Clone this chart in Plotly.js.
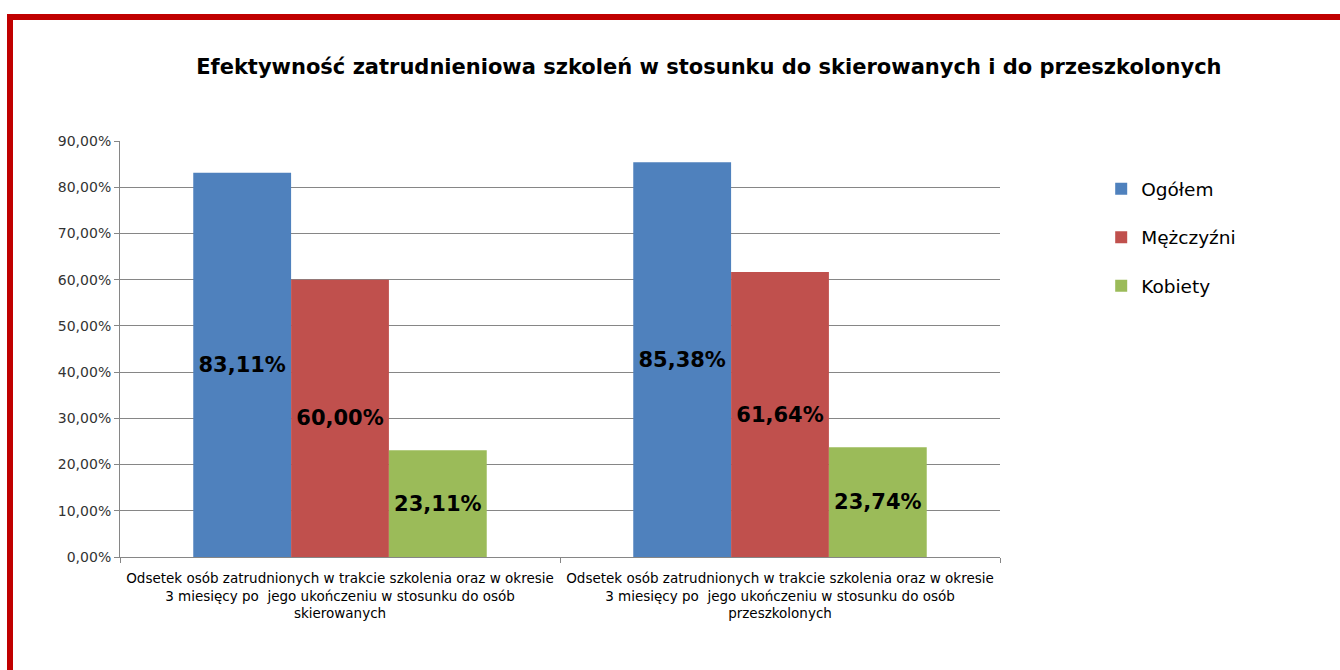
<!DOCTYPE html>
<html>
<head>
<meta charset="utf-8">
<script src="https://cdn.plot.ly/plotly-3.0.1.min.js"></script>
<style>
html,body{margin:0;padding:0;background:#fff;overflow:hidden;}
#chart{position:absolute;left:0;top:0;width:1340px;height:670px;}
#frame{position:absolute;left:7px;top:14px;width:1400px;height:720px;border:6px solid #C00000;box-sizing:border-box;pointer-events:none;}
</style>
</head>
<body>
<div id="chart"></div>
<div id="frame"></div>
<script>
const categories = [
  "Odsetek osób zatrudnionych w trakcie szkolenia oraz w okresie<br>3 miesięcy po  jego ukończeniu w stosunku do osób<br>skierowanych",
  "Odsetek osób zatrudnionych w trakcie szkolenia oraz w okresie<br>3 miesięcy po  jego ukończeniu w stosunku do osób<br>przeszkolonych"
];
const seriesNames = ["Ogółem", "Mężczyźni", "Kobiety"];
const ogolem = [0.8311, 0.8538];
const mezczyzni = [0.6000, 0.6164];
const kobiety = [0.2311, 0.2374];
const colors = ["#4F81BD", "#C0504D", "#9BBB59"];
const yTicks = [0, 0.1, 0.2, 0.3, 0.4, 0.5, 0.6, 0.7, 0.8, 0.9];

const allValues = [ogolem, mezczyzni, kobiety];
const traces = allValues.map((vals, i) => ({
  type: "bar",
  name: seriesNames[i],
  x: categories,
  y: vals,
  legendgroup: "g" + i,
  marker: {color: colors[i]},
  texttemplate: "%{y:.2%}",
  textposition: "inside",
  insidetextanchor: "middle",
  textangle: 0,
  insidetextfont: {family: "DejaVu Sans", size: 21, color: "#000", weight: "bold"},
  hoverinfo: "none"
}));

const layout = {
  width: 1340, height: 670,
  separators: ", ",
  paper_bgcolor: "rgba(0,0,0,0)",
  plot_bgcolor: "#fff",
  margin: {l: 120, r: 340, t: 141, b: 113},
  barmode: "group",
  bargap: 0.333,
  bargroupgap: 0,
  showlegend: true,
  title: {
    text: "<b>Efektywność zatrudnieniowa szkoleń w stosunku do skierowanych i do przeszkolonych</b>",
    font: {family: "DejaVu Sans", size: 21, color: "#000"},
    x: 0.529, xanchor: "center", xref: "container",
    y: 0.9, yanchor: "middle", yref: "container"
  },
  xaxis: {
    type: "category",
    showline: true, linecolor: "#868686", linewidth: 1,
    ticks: "outside", tickson: "boundaries", ticklen: 5, tickcolor: "#868686",
    ticklabelstandoff: 9,
    tickfont: {family: "DejaVu Sans", size: 13.5, color: "#000"},
    showgrid: false, zeroline: false, fixedrange: true
  },
  yaxis: {
    range: [0, 0.9],
    tickvals: yTicks,
    tickformat: ".2%",
    showline: true, linecolor: "#868686", linewidth: 1,
    ticks: "outside", ticklen: 5, tickcolor: "#868686",
    showgrid: true, gridcolor: "#868686", gridwidth: 1,
    zeroline: false,
    tickfont: {family: "DejaVu Sans", size: 14, color: "#333"},
    fixedrange: true
  },
  legend: {
    x: 1.115, xanchor: "left", y: 0.93, yanchor: "top",
    font: {family: "DejaVu Sans", size: 18.5, color: "#000"},
    tracegroupgap: 21.5,
    bgcolor: "rgba(0,0,0,0)"
  }
};

Plotly.newPlot("chart", traces, layout, {displayModeBar: false, staticPlot: true});
</script>
</body>
</html>
